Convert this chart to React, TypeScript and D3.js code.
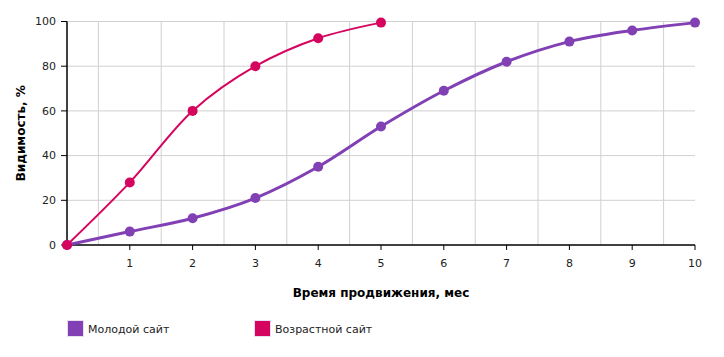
import React from "react";
import * as d3 from "d3";

const months = [0, 1, 2, 3, 4, 5, 6, 7, 8, 9, 10];
const youngValues = [0, 6, 12, 21, 35, 53, 69, 82, 91, 96, 99.5];
const oldMonths = [0, 1, 2, 3, 4, 5];
const oldValues = [0, 28, 60, 80, 92.5, 99.5];
const xTicks = [1, 2, 3, 4, 5, 6, 7, 8, 9, 10];
const xGrid = [0.5, 1.5, 2.5, 3.5, 4.5, 5.5, 6.5, 7.5, 8.5, 9.5];
const yTicks = [0, 20, 40, 60, 80, 100];
const seriesNames = ["Молодой сайт", "Возрастной сайт"];
const colors = ["#8140b4", "#d5055f"];

export default function App() {
  const W = 724, H = 357;
  const left = 67, right = 695, top = 21.5, bottom = 245;
  const x = d3.scaleLinear().domain([0, 10]).range([left, right]);
  const y = d3.scaleLinear().domain([0, 100]).range([bottom, top]);
  const line = d3
    .line<[number, number]>()
    .x((d) => x(d[0]))
    .y((d) => y(d[1]))
    .curve(d3.curveCatmullRom.alpha(0.5));
  const young: [number, number][] = months.map((m, i) => [m, youngValues[i]]);
  const old: [number, number][] = oldMonths.map((m, i) => [m, oldValues[i]]);
  const font = "Verdana, 'DejaVu Sans', sans-serif";

  return (
    <svg
      width={W}
      height={H}
      style={{ position: "absolute", left: 0, top: 0, fontFamily: font }}
    >
      <rect width={W} height={H} fill="#fff" />
      {xGrid.map((g) => (
        <line key={"xg" + g} x1={x(g)} x2={x(g)} y1={top} y2={bottom} stroke="#d0d0d0" />
      ))}
      {yTicks.filter((t) => t > 0).map((t) => (
        <line key={"yg" + t} x1={left} x2={right} y1={y(t)} y2={y(t)} stroke="#d0d0d0" />
      ))}
      {/* axes */}
      <line x1={left} x2={left} y1={top} y2={bottom} stroke="#000" strokeWidth={1.5} />
      <line x1={left} x2={right} y1={bottom} y2={bottom} stroke="#000" strokeWidth={1.5} />
      {yTicks.map((t) => (
        <g key={"yt" + t}>
          <line x1={left - 6} x2={left} y1={y(t)} y2={y(t)} stroke="#000" />
          <text x={left - 11} y={y(t)} dy="0.35em" textAnchor="end" fontSize={11} fill="#222">
            {t}
          </text>
        </g>
      ))}
      {xTicks.map((t) => (
        <g key={"xt" + t}>
          <line x1={x(t)} x2={x(t)} y1={bottom} y2={bottom + 5} stroke="#000" />
          <text x={x(t)} y={bottom + 22} textAnchor="middle" fontSize={11} fill="#222">
            {t}
          </text>
        </g>
      ))}
      <text x={left - 9} y={bottom + 4} textAnchor="end" fontSize={11} fill="#222" />
      {/* series */}
      <path d={line(young) || ""} fill="none" stroke={colors[0]} strokeWidth={3} />
      {young.map((d) => (
        <circle key={"yc" + d[0]} cx={x(d[0])} cy={y(d[1])} r={5} fill={colors[0]} />
      ))}
      <path d={line(old) || ""} fill="none" stroke={colors[1]} strokeWidth={2} />
      {old.map((d) => (
        <circle key={"oc" + d[0]} cx={x(d[0])} cy={y(d[1])} r={5} fill={colors[1]} />
      ))}
      {/* titles */}
      <text
        transform={`translate(25,${(top + bottom) / 2}) rotate(-90)`}
        textAnchor="middle"
        fontSize={12}
        fontWeight="bold"
        fill="#000"
      >
        Видимость, %
      </text>
      <text x={(left + right) / 2} y={297} textAnchor="middle" fontSize={12} fontWeight="bold" fill="#000">
        Время продвижения, мес
      </text>
      {/* legend */}
      {seriesNames.map((n, i) => (
        <g key={n} transform={`translate(${67 + i * 187},320)`}>
          <rect x={0.5} y={0.5} width={16} height={16} fill={colors[i]} stroke="#e8e0f0" />
          <text x={21} y={13} fontSize={11} fill="#222">
            {n}
          </text>
        </g>
      ))}
    </svg>
  );
}
